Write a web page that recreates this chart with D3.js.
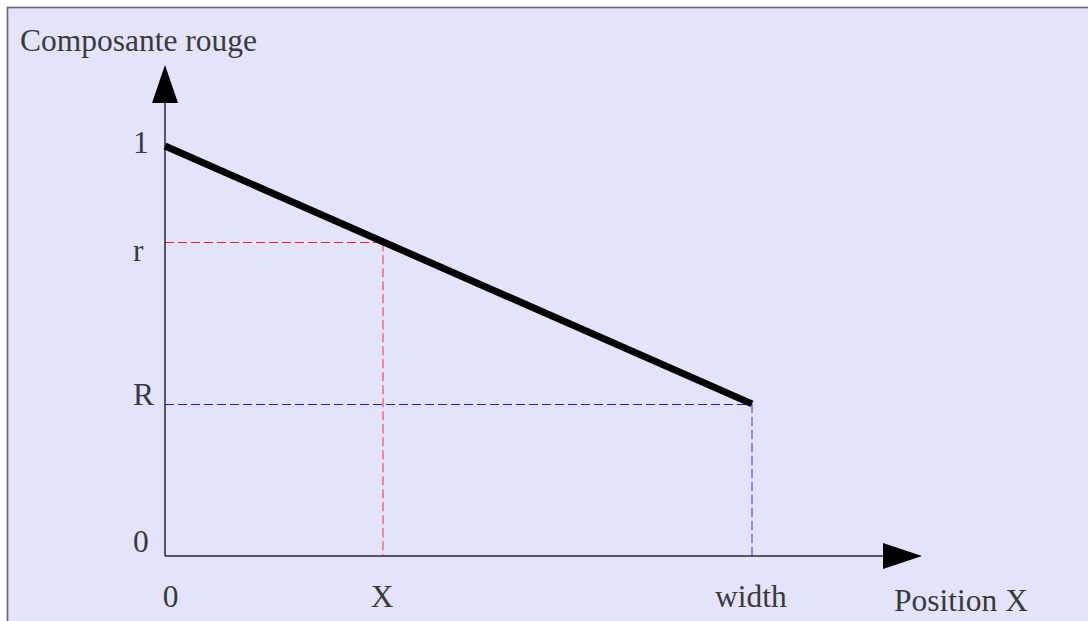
<!DOCTYPE html>
<html><head><meta charset="utf-8">
<script src="https://cdn.jsdelivr.net/npm/d3@7"></script>
<style>html,body{margin:0;padding:0;background:#fff;}svg{display:block;}</style>
</head><body>
<script>
// Data
const xTickValues = [0, 0.371, 1];
const xTickLabels = ["0", "X", "width"];
const yTickValues = [0, 0.371, 0.765, 1];
const yTickLabels = ["0", "R", "r", "1"];
const lineX = [0, 1];
const lineY = [1, 0.371];
const xTitle = "Position X";
const yTitle = "Composante rouge";

const W = 1088, H = 621;
const svg = d3.select("body").append("svg").attr("width", W).attr("height", H);
svg.append("rect").attr("x", 7.5).attr("y", 7.5).attr("width", 1200).attr("height", 800)
  .attr("fill", "#e3e3fb").attr("stroke", "#666").attr("stroke-width", 1.6);

const x = d3.scaleLinear().domain([0, 1]).range([165, 752]);
const y = d3.scaleLinear().domain([0, 1]).range([556, 146]);
const font = "'Liberation Serif', 'Times New Roman', serif";
const txt = "#3a3a3a";
const fs = 31.5;

// guides
const guides = [
  {xv: xTickValues[1], yv: yTickValues[2], color: "#ff1a1a"},
  {xv: xTickValues[2], yv: yTickValues[1], color: "#1a1aff"}
];
guides.forEach(g => {
  svg.append("line").attr("x1", x(0)).attr("x2", x(g.xv)).attr("y1", Math.round(y(g.yv)) + 0.5).attr("y2", Math.round(y(g.yv)) + 0.5)
    .attr("stroke", g.color).attr("stroke-width", 1).attr("stroke-dasharray", "9,4");
  svg.append("line").attr("x1", Math.round(x(g.xv))).attr("x2", Math.round(x(g.xv))).attr("y1", y(g.yv)).attr("y2", y(0))
    .attr("stroke", g.color).attr("stroke-width", 1.2).attr("stroke-opacity", 0.75).attr("stroke-dasharray", "9,4");
});

// axes
const axisColor = "#2a2a2a";
svg.append("line").attr("x1", x(0)).attr("x2", 884).attr("y1", y(0)).attr("y2", y(0)).attr("stroke", axisColor).attr("stroke-width", 1.5);
svg.append("line").attr("x1", x(0)).attr("x2", x(0)).attr("y1", y(0)).attr("y2", 102).attr("stroke", axisColor).attr("stroke-width", 1.5);
svg.append("path").attr("d", `M883,${y(0)-13} L922,${y(0)} L883,${y(0)+13} Z`).attr("fill", "#000");
svg.append("path").attr("d", `M${x(0)-13},103 L${x(0)},65 L${x(0)+13},103 Z`).attr("fill", "#000");

// main line
const line = d3.line().x(d => x(d[0])).y(d => y(d[1]));
svg.append("path").attr("d", line(d3.zip(lineX, lineY))).attr("fill", "none")
  .attr("stroke", "#000").attr("stroke-width", 7).attr("stroke-linecap", "butt");

// tick labels
const yDy = [-4, 1, 19, 7];
yTickLabels.forEach((t, i) => {
  svg.append("text").attr("x", 133).attr("y", y(yTickValues[i]) + yDy[i])
    .attr("font-family", font).attr("font-size", fs).attr("fill", txt).text(t);
});
const xCenters = [170.5, 382, 751];
xTickLabels.forEach((t, i) => {
  svg.append("text").attr("x", x(xTickValues[i]) + (xCenters[i] - x(xTickValues[i]))).attr("y", 607)
    .attr("text-anchor", "middle").attr("font-family", font).attr("font-size", fs).attr("fill", txt).text(t);
});
svg.append("text").attr("x", 894).attr("y", 611).attr("font-family", font).attr("font-size", fs).attr("fill", txt).text(xTitle);
svg.append("text").attr("x", 20).attr("y", 51).attr("font-family", font).attr("font-size", fs).attr("fill", txt).text(yTitle);
</script>
</body></html>
